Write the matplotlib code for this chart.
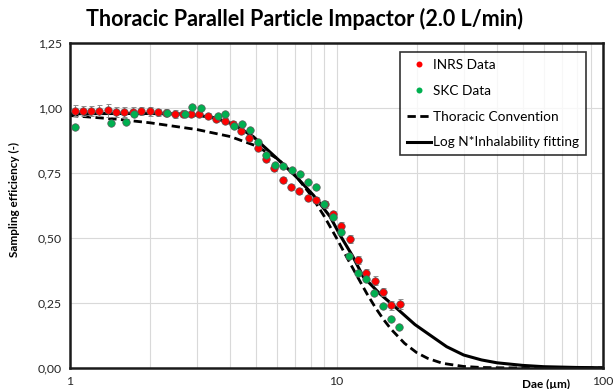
#thoracic PPI efficiency curve
import numpy as np
import matplotlib
matplotlib.use('Agg')
from matplotlib import pyplot as plt
from matplotlib.ticker import FixedLocator, FuncFormatter, NullFormatter

plt.rcParams['font.family'] = ['Lato', 'DejaVu Sans']

title = 'Thoracic Parallel Particle Impactor (2.0 L/min)'

#INRS data: Dae (um), efficiency, error bar
inrs_d = [1.04, 1.12, 1.20, 1.29, 1.39, 1.49, 1.60, 1.72, 1.85, 1.99,
          2.13, 2.29, 2.47, 2.65, 2.85, 3.06, 3.29, 3.53, 3.80, 4.08,
          4.39, 4.71, 5.07, 5.44, 5.85, 6.29, 6.76, 7.26, 7.81, 8.39,
          9.02, 9.69, 10.41, 11.19, 12.03, 12.92, 13.89, 14.93, 16.04, 17.24]
inrs_e = [0.990, 0.988, 0.988, 0.990, 0.991, 0.985, 0.985, 0.986, 0.988, 0.987,
          0.983, 0.982, 0.977, 0.978, 0.977, 0.978, 0.968, 0.957, 0.950, 0.937,
          0.913, 0.886, 0.847, 0.804, 0.768, 0.723, 0.695, 0.682, 0.653, 0.646,
          0.629, 0.591, 0.546, 0.496, 0.415, 0.367, 0.336, 0.293, 0.241, 0.247]
inrs_err = [0.022, 0.020, 0.020, 0.022, 0.024, 0.018, 0.018, 0.016, 0.016, 0.016,
            0.015, 0.014, 0.014, 0.014, 0.013, 0.013, 0.012, 0.012, 0.012, 0.012,
            0.012, 0.012, 0.012, 0.012, 0.012, 0.012, 0.012, 0.012, 0.012, 0.012,
            0.014, 0.014, 0.016, 0.016, 0.014, 0.014, 0.016, 0.016, 0.018, 0.020]

#SKC data
skc_d = [1.04, 1.43, 1.62, 1.74, 2.32, 2.69, 2.88, 3.10, 3.58, 3.83,
         4.13, 4.41, 4.74, 5.09, 5.44, 5.88, 6.32, 6.79, 7.30, 7.84,
         8.41, 9.00, 9.68, 10.39, 11.17, 12.01, 12.90, 13.86, 14.91, 16.02, 17.20]
skc_e = [0.926, 0.941, 0.946, 0.976, 0.980, 0.976, 1.004, 1.000, 0.969, 0.976,
         0.931, 0.937, 0.917, 0.868, 0.819, 0.781, 0.777, 0.762, 0.745, 0.717,
         0.696, 0.631, 0.581, 0.523, 0.430, 0.364, 0.341, 0.290, 0.239, 0.190, 0.158]

conv_d = [1, 1.5, 2, 3, 4, 5, 6, 7, 8, 9, 10, 11, 12, 13, 14, 15, 16,
          18, 20, 22, 25, 30, 35, 40, 50, 60, 80, 100]
conv_e = [0.971, 0.957, 0.943, 0.917, 0.890, 0.854, 0.805, 0.742, 0.666, 0.583,
          0.500, 0.421, 0.350, 0.286, 0.232, 0.187, 0.150, 0.095, 0.059, 0.037,
          0.018, 0.006, 0.002, 0.001, 0.0, 0.0, 0.0, 0.0]

fit_d = [1, 1.5, 2, 2.6, 3.0, 3.45, 4.1, 4.87, 5.3, 6.14, 7.1, 8.2, 9.45,
         10.3, 11.5, 12.6, 14.56, 16.8, 19.7, 22.4, 25.9, 30, 35, 40, 50,
         60, 80, 100]
fit_e = [0.978, 0.979, 0.979, 0.977, 0.972, 0.963, 0.938, 0.890, 0.855, 0.795,
         0.733, 0.664, 0.583, 0.512, 0.430, 0.351, 0.285, 0.230, 0.167, 0.127,
         0.082, 0.050, 0.031, 0.020, 0.010, 0.005, 0.002, 0.001]

fig = plt.figure(figsize=(6.13, 3.89), dpi=100)
ax = fig.add_axes([70/613, 21/389, 533/613, 325/389])

ax.plot(conv_d, conv_e, color='black', lw=2.0, ls=(0, (3, 1.6)), zorder=2, label='Thoracic Convention')
ax.plot(fit_d, fit_e, color='black', lw=2.2, zorder=2, label='Log N*Inhalability fitting')
ax.errorbar(inrs_d, inrs_e, yerr=inrs_err, fmt='none', ecolor='#8c8c8c',
            elinewidth=0.7, capsize=1.8, capthick=0.7, zorder=3)
l1, = ax.plot(inrs_d, inrs_e, 'o', ms=5.4, mfc='#ff0000', mec='#595959', mew=0.5, zorder=4, label='INRS Data')
l2, = ax.plot(skc_d, skc_e, 'o', ms=5.4, mfc='#00b050', mec='#595959', mew=0.5, zorder=5, label='SKC Data')

ax.set_xscale('log')
ax.set_xlim(1, 100)
ax.set_ylim(0, 1.25)
ax.xaxis.set_major_locator(FixedLocator([1, 10, 100]))
ax.xaxis.set_minor_locator(FixedLocator([m*10**k for k in range(2) for m in range(2, 10)]))
ax.xaxis.set_major_formatter(FuncFormatter(lambda v, p: '%g' % v))
ax.xaxis.set_minor_formatter(NullFormatter())
ax.set_yticks([0, 0.25, 0.5, 0.75, 1.0, 1.25])
ax.yaxis.set_major_formatter(FuncFormatter(lambda v, p: ('%.2f' % v).replace('.', ',')))
ax.tick_params(which='both', length=0, labelsize=8.8, colors='#262626')
ax.tick_params(axis='x', pad=6)
ax.tick_params(axis='y', pad=6)
ax.grid(which='both', color='#d9d9d9', lw=0.8)
ax.set_axisbelow(True)
for s in ax.spines.values():
    s.set_linewidth(1.8)
    s.set_color('#1a1a1a')

ax.set_ylabel('Sampling efficiency (-)', fontsize=8.5, fontweight='bold')
ax.yaxis.set_label_coords(-50/533, 0.517)
fig.text(546/613, 1-384/389, 'Dae (\u00b5m)', ha='center', va='center', fontsize=8.5, fontweight='bold')
fig.text(304/613, 1-19/389, title, ha='center', va='center', fontsize=15.5, fontweight='bold')

leg = ax.legend([l1, l2, ax.lines[0], ax.lines[1]],
                ['INRS Data', 'SKC Data', 'Thoracic Convention', 'Log N*Inhalability fitting'],
                loc='upper left', bbox_to_anchor=(400/613, 1-52/389), bbox_transform=fig.transFigure,
                fontsize=9.8, frameon=True, fancybox=False, edgecolor='black',
                handlelength=1.8, handletextpad=0.15, labelspacing=1.02, borderpad=0.5,
                borderaxespad=0, markerscale=0.8)
leg.get_frame().set_linewidth(1.2)
for h in leg.legend_handles[:2]:
    h.set_markeredgewidth(0)

fig.savefig('out.png', dpi=100)
